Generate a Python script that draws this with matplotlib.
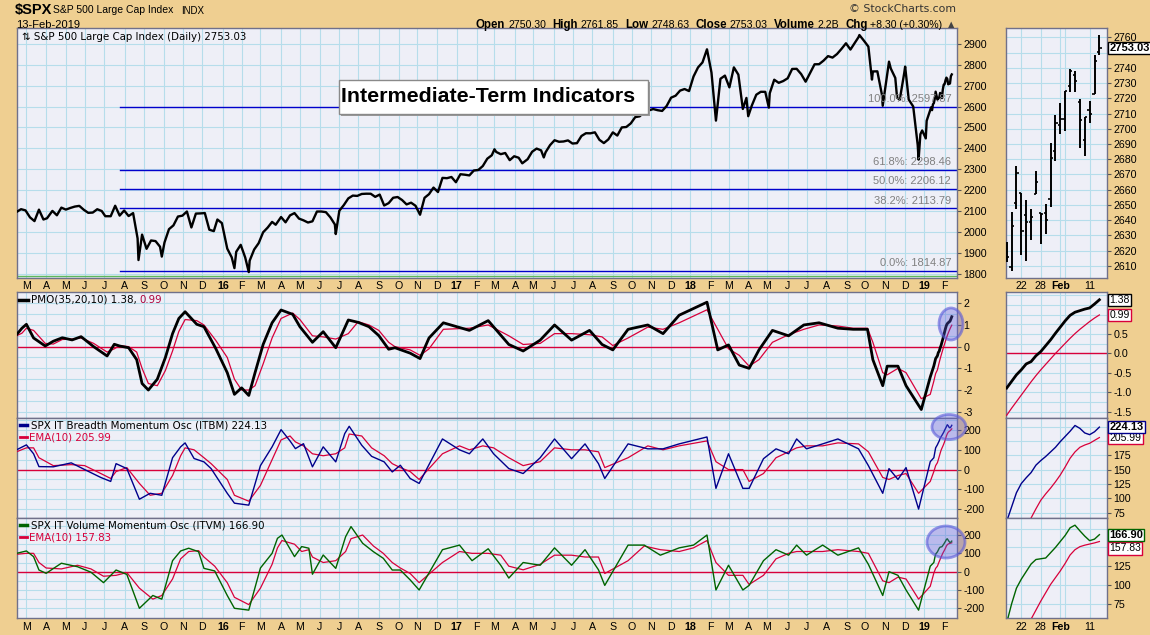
import numpy as np
import pandas as pd
import matplotlib
matplotlib.use('Agg')
import matplotlib.pyplot as plt
from matplotlib.patches import Ellipse, Rectangle
from matplotlib.transforms import blended_transform_factory

plt.rcParams['axes.unicode_minus'] = False

W, H = 1150, 635
BG = '#EFCF91'
PANEL = '#EEEFF7'
GRID = '#B6DDEB'
RED = '#D8003A'

# ---------------- data ----------------
# S&P 500 daily line (closes, with the visible intraday spikes)
spx_dates = ['2015-02-13', '2015-02-20', '2015-02-27', '2015-03-06', '2015-03-13', '2015-03-20', '2015-03-27',
             '2015-04-02', '2015-04-10', '2015-04-17', '2015-04-24', '2015-05-01', '2015-05-08', '2015-05-15',
             '2015-05-22', '2015-05-29', '2015-06-05', '2015-06-12', '2015-06-19', '2015-06-26', '2015-07-02',
             '2015-07-10', '2015-07-17', '2015-07-24', '2015-07-31', '2015-08-07', '2015-08-14', '2015-08-21',
             '2015-08-24', '2015-08-28', '2015-09-04', '2015-09-11', '2015-09-18', '2015-09-25', '2015-09-29',
             '2015-10-02', '2015-10-09', '2015-10-16', '2015-10-23', '2015-10-30', '2015-11-06', '2015-11-13',
             '2015-11-20', '2015-11-27', '2015-12-04', '2015-12-11', '2015-12-18', '2015-12-24', '2015-12-31',
             '2016-01-08', '2016-01-15', '2016-01-20', '2016-01-22', '2016-01-29', '2016-02-05', '2016-02-11',
             '2016-02-12', '2016-02-19', '2016-02-26', '2016-03-04', '2016-03-11', '2016-03-18', '2016-03-24',
             '2016-04-01', '2016-04-08', '2016-04-15', '2016-04-22', '2016-04-29', '2016-05-06', '2016-05-13',
             '2016-05-20', '2016-05-27', '2016-06-03', '2016-06-10', '2016-06-17', '2016-06-24', '2016-06-27',
             '2016-07-01', '2016-07-08', '2016-07-15', '2016-07-22', '2016-07-29', '2016-08-05', '2016-08-12',
             '2016-08-19', '2016-08-26', '2016-09-02', '2016-09-09', '2016-09-16', '2016-09-23', '2016-09-30',
             '2016-10-07', '2016-10-14', '2016-10-21', '2016-10-28', '2016-11-04', '2016-11-11', '2016-11-18',
             '2016-11-25', '2016-12-02', '2016-12-09', '2016-12-16', '2016-12-23', '2016-12-30', '2017-01-06',
             '2017-01-13', '2017-01-20', '2017-01-27', '2017-02-03', '2017-02-10', '2017-02-17', '2017-02-24',
             '2017-03-01', '2017-03-03', '2017-03-10', '2017-03-17', '2017-03-24', '2017-03-31', '2017-04-07',
             '2017-04-13', '2017-04-21', '2017-04-28', '2017-05-05', '2017-05-12', '2017-05-17', '2017-05-19',
             '2017-05-26', '2017-06-02', '2017-06-09', '2017-06-16', '2017-06-23', '2017-06-30', '2017-07-07',
             '2017-07-14', '2017-07-21', '2017-07-28', '2017-08-04', '2017-08-11', '2017-08-18', '2017-08-25',
             '2017-09-01', '2017-09-08', '2017-09-15', '2017-09-22', '2017-09-29', '2017-10-06', '2017-10-13',
             '2017-10-20', '2017-10-27', '2017-11-03', '2017-11-10', '2017-11-17', '2017-11-24', '2017-12-01',
             '2017-12-08', '2017-12-15', '2017-12-22', '2017-12-29', '2018-01-05', '2018-01-12', '2018-01-19',
             '2018-01-26', '2018-02-02', '2018-02-08', '2018-02-09', '2018-02-16', '2018-02-23', '2018-03-02',
             '2018-03-09', '2018-03-16', '2018-03-23', '2018-03-29', '2018-04-02', '2018-04-06', '2018-04-13',
             '2018-04-20', '2018-04-27', '2018-05-03', '2018-05-04', '2018-05-11', '2018-05-18', '2018-05-25',
             '2018-06-01', '2018-06-08', '2018-06-15', '2018-06-22', '2018-06-29', '2018-07-06', '2018-07-13',
             '2018-07-20', '2018-07-27', '2018-08-03', '2018-08-10', '2018-08-17', '2018-08-24', '2018-08-31',
             '2018-09-07', '2018-09-14', '2018-09-20', '2018-09-21', '2018-09-28', '2018-10-05', '2018-10-11',
             '2018-10-12', '2018-10-19', '2018-10-26', '2018-10-29', '2018-11-02', '2018-11-07', '2018-11-09',
             '2018-11-16', '2018-11-20', '2018-11-23', '2018-11-30', '2018-12-03', '2018-12-07', '2018-12-14',
             '2018-12-21', '2018-12-24', '2018-12-26', '2018-12-28', '2019-01-03', '2019-01-04', '2019-01-11',
             '2019-01-14', '2019-01-15']
spx_close = [2096.99, 2110.30, 2104.50, 2071.26, 2053.40, 2108.10, 2061.02,
             2066.96, 2102.06, 2081.18, 2117.69, 2108.29, 2116.10, 2122.73,
             2126.06, 2107.39, 2092.83, 2094.11, 2109.99, 2101.49, 2076.78,
             2076.62, 2126.64, 2079.65, 2103.84, 2077.57, 2091.54, 1970.89,
             1867.61, 1988.87, 1921.22, 1961.05, 1958.03, 1931.34, 1884.09,
             1951.36, 2014.89, 2033.11, 2075.15, 2079.36, 2099.20, 2023.04,
             2089.17, 2090.11, 2091.69, 2012.37, 2005.55, 2060.99, 2043.94,
             1922.03, 1880.33, 1829.08, 1906.90, 1940.24, 1880.05, 1810.10,
             1864.78, 1917.78, 1948.05, 1999.99, 2022.19, 2049.58, 2035.94,
             2072.78, 2047.60, 2080.73, 2091.58, 2065.30, 2057.14, 2046.61,
             2052.32, 2099.06, 2099.13, 2096.07, 2071.22, 2037.41, 1991.68,
             2102.95, 2129.90, 2161.74, 2175.03, 2173.60, 2182.87, 2184.05,
             2183.87, 2169.04, 2179.98, 2127.81, 2139.16, 2164.69, 2168.27,
             2153.74, 2132.98, 2141.16, 2126.41, 2083.79, 2164.45, 2181.90,
             2213.35, 2191.95, 2259.53, 2258.07, 2263.79, 2238.83, 2276.98,
             2274.64, 2271.31, 2294.69, 2297.42, 2316.10, 2351.16, 2367.34,
             2395.96, 2383.12, 2372.60, 2378.25, 2343.98, 2362.72, 2355.54,
             2328.95, 2348.69, 2384.20, 2399.29, 2390.90, 2357.03, 2381.73,
             2415.82, 2439.07, 2431.77, 2433.15, 2438.30, 2423.41, 2425.18,
             2459.27, 2472.54, 2472.10, 2476.83, 2441.32, 2425.55, 2443.05,
             2476.55, 2461.43, 2500.23, 2502.22, 2519.36, 2549.33, 2553.17,
             2575.21, 2581.07, 2587.84, 2582.30, 2578.85, 2602.42, 2642.22,
             2651.50, 2675.81, 2683.34, 2673.61, 2743.15, 2786.24, 2810.30,
             2872.87, 2762.13, 2581.00, 2532.69, 2732.22, 2747.30, 2691.25,
             2786.57, 2752.01, 2588.26, 2640.87, 2553.80, 2604.47, 2656.30,
             2670.14, 2669.91, 2594.62, 2663.42, 2727.72, 2712.97, 2721.33,
             2734.62, 2779.03, 2779.66, 2754.88, 2718.37, 2759.82, 2801.31,
             2801.83, 2818.82, 2840.35, 2833.28, 2850.13, 2874.69, 2901.52,
             2871.68, 2904.98, 2930.75, 2940.91, 2913.98, 2885.57, 2728.37,
             2767.13, 2767.78, 2658.69, 2603.54, 2723.06, 2813.89, 2781.01,
             2736.27, 2641.89, 2632.56, 2760.17, 2790.37, 2633.08, 2599.95,
             2416.62, 2346.58, 2467.70, 2485.74, 2447.89, 2531.94, 2596.26,
             2582.61, 2610.30]

# last weeks, daily OHLC (right-hand zoom panel)
bar_dates = ['2019-01-16', '2019-01-17', '2019-01-18', '2019-01-22', '2019-01-23', '2019-01-24', '2019-01-25',
             '2019-01-28', '2019-01-29', '2019-01-30', '2019-01-31', '2019-02-01', '2019-02-04', '2019-02-05',
             '2019-02-06', '2019-02-07', '2019-02-08', '2019-02-11', '2019-02-12', '2019-02-13']
bar_open = [2614.75, 2609.28, 2651.27, 2657.88, 2643.48, 2638.84, 2657.44, 2644.97, 2644.89, 2653.62,
            2685.49, 2702.32, 2706.49, 2728.34, 2735.05, 2717.53, 2692.36, 2712.40, 2722.61, 2750.30]
bar_high = [2625.76, 2645.06, 2675.47, 2657.88, 2653.19, 2647.20, 2672.38, 2644.97, 2650.93, 2690.44,
            2708.95, 2716.66, 2724.99, 2738.98, 2738.08, 2719.32, 2708.07, 2718.05, 2748.19, 2761.85]
bar_low = [2612.68, 2606.36, 2647.58, 2617.27, 2612.86, 2627.01, 2657.33, 2624.06, 2631.05, 2648.34,
           2678.65, 2696.88, 2698.75, 2724.03, 2724.15, 2687.26, 2681.83, 2703.79, 2722.61, 2748.63]
bar_close = [2616.10, 2635.96, 2670.71, 2632.90, 2638.70, 2642.33, 2664.76, 2643.85, 2640.00, 2681.05,
             2704.10, 2706.53, 2724.87, 2737.70, 2731.61, 2706.05, 2707.88, 2709.80, 2744.73, 2753.03]

fib_pct = ['100.0%', '61.8%', '50.0%', '38.2%', '0.0%']
fib_level = [2597.87, 2298.46, 2206.12, 2113.79, 1814.87]
fib_start = '2015-07-24'

# PMO(35,20,10) history and its signal line
pmo_dates = ['2015-02-13', '2015-02-23', '2015-03-02', '2015-03-12', '2015-03-31', '2015-04-13', '2015-04-27',
             '2015-05-12', '2015-05-26', '2015-06-15', '2015-07-06', '2015-07-16', '2015-07-24', '2015-08-07',
             '2015-08-20', '2015-08-28', '2015-09-08', '2015-09-22', '2015-10-05', '2015-10-15', '2015-10-26',
             '2015-11-04', '2015-11-23', '2015-12-03', '2015-12-22', '2016-01-08', '2016-01-20', '2016-02-01',
             '2016-02-11', '2016-02-22', '2016-03-04', '2016-03-18', '2016-04-01', '2016-04-20', '2016-05-02',
             '2016-05-20', '2016-06-07', '2016-06-27', '2016-07-15', '2016-08-01', '2016-08-17', '2016-09-01',
             '2016-09-16', '2016-09-27', '2016-10-20', '2016-11-04', '2016-11-18', '2016-12-12', '2017-01-20',
             '2017-02-20', '2017-03-23', '2017-04-14', '2017-05-11', '2017-06-02', '2017-06-29', '2017-07-27',
             '2017-08-16', '2017-09-01', '2017-09-26', '2017-10-26', '2017-11-20', '2017-12-14', '2018-01-26',
             '2018-02-13', '2018-03-01', '2018-03-19', '2018-04-03', '2018-04-18', '2018-05-09', '2018-06-04',
             '2018-06-27', '2018-07-20', '2018-08-20', '2018-09-12', '2018-10-04', '2018-10-12', '2018-10-29',
             '2018-11-05', '2018-11-21', '2018-12-04', '2018-12-27', '2019-01-10']
pmo_line = [0.55, 0.85, 1.03, 0.40, 0.03, 0.25, 0.41, 0.31, 0.46, 0.00, -0.43, 0.11, 0.03, -0.05,
            -0.60, -1.70, -2.00, -1.50, -0.50, 0.60, 1.30, 1.61, 1.03, 0.92, -0.07, -1.20, -2.20, -1.90,
            -2.25, -1.20, 0.10, 1.10, 1.69, 1.49, 0.92, 0.20, 0.69, -0.05, 1.23, 1.12, 0.92, 0.51,
            -0.12, -0.05, -0.30, -0.55, 0.40, 1.10, 0.75, 1.20, 0.10, -0.20, 0.30, 1.00, 0.30, 0.75,
            0.10, -0.15, 0.80, 1.00, 0.60, 1.45, 2.05, -0.15, 0.08, -0.85, -1.00, -0.15, 0.75, 0.50,
            1.00, 1.10, 0.85, 0.80, 0.80, -0.60, -1.80, -0.90, -0.90, -1.80, -2.90, -1.40]
pmo_signal = [0.50, 0.62, 0.85, 0.75, 0.15, 0.12, 0.33, 0.35, 0.40, 0.15, -0.25, -0.10, 0.05, 0.00,
              -0.25, -1.00, -1.70, -1.80, -1.10, -0.20, 0.70, 1.25, 1.20, 1.00, 0.30, -0.50, -1.50, -2.00,
              -2.00, -1.80, -0.80, 0.40, 1.30, 1.55, 1.25, 0.50, 0.45, 0.35, 0.60, 1.15, 1.00, 0.75,
              0.20, 0.00, -0.15, -0.40, -0.10, 0.80, 0.85, 1.00, 0.50, 0.10, 0.15, 0.60, 0.60, 0.55,
              0.45, 0.05, 0.40, 0.90, 0.80, 1.10, 1.70, 0.80, -0.10, -0.40, -0.90, -0.60, 0.20, 0.55,
              0.80, 1.00, 0.95, 0.85, 0.85, 0.20, -1.20, -1.30, -1.00, -1.20, -2.40, -2.20]

itbm_dates = ['2015-02-13', '2015-03-02', '2015-03-12', '2015-03-20', '2015-04-13', '2015-05-11', '2015-06-01',
              '2015-06-25', '2015-07-10', '2015-07-20', '2015-08-05', '2015-08-25', '2015-09-10', '2015-09-29',
              '2015-10-15', '2015-10-28', '2015-11-04', '2015-11-18', '2015-12-03', '2015-12-15', '2016-01-08',
              '2016-01-20', '2016-02-11', '2016-03-01', '2016-03-18', '2016-04-01', '2016-04-15', '2016-04-25',
              '2016-05-06', '2016-05-20', '2016-06-07', '2016-06-27', '2016-07-11', '2016-07-18', '2016-08-05',
              '2016-08-22', '2016-09-09', '2016-09-22', '2016-10-05', '2016-10-20', '2016-11-03', '2016-12-09',
              '2017-01-05', '2017-01-20', '2017-02-10', '2017-02-28', '2017-03-23', '2017-04-14', '2017-05-11',
              '2017-06-02', '2017-06-29', '2017-07-20', '2017-08-10', '2017-08-21', '2017-09-26', '2017-10-26',
              '2017-11-20', '2017-12-14', '2018-01-26', '2018-02-09', '2018-03-01', '2018-03-23', '2018-04-03',
              '2018-04-25', '2018-05-15', '2018-06-04', '2018-06-15', '2018-07-02', '2018-07-26', '2018-08-20',
              '2018-09-20', '2018-10-05', '2018-10-29', '2018-11-07', '2018-11-21', '2018-12-04', '2018-12-24',
              '2019-01-10']
itbm_line = [100, 125, 80, 15, 14, 34, 0, -40, -60, 30, 5, -150, -120, -130, 60, 115, 135, 56, 39, 5,
             -120, -170, -180, 20, 115, 202, 145, 106, 131, 14, 115, 39, 182, 219, 123, 67, 39, -12, 22,
             -45, -70, 155, 100, 80, 155, 80, 5, -20, 60, 155, 55, 130, 30, -45, 130, 105, 105, 130, 165,
             -95, 80, -95, -95, 55, 105, 80, 155, 105, 130, 155, 105, 20, -120, 5, -50, 10, -200, 40]
itbm_ema = [90, 110, 110, 60, 20, 25, 20, -20, -45, -10, 10, -70, -130, -120, -30, 70, 110, 100, 60, 30,
            -50, -130, -160, -80, 50, 150, 170, 140, 120, 80, 70, 80, 110, 180, 170, 110, 70, 30, 10,
            -10, -50, 80, 120, 100, 120, 110, 60, 20, 40, 110, 100, 100, 90, 10, 60, 120, 100, 120, 145,
            40, 0, 0, -60, -20, 60, 90, 110, 120, 120, 135, 130, 90, -40, -50, -30, -20, -120, -60]

itvm_dates = ['2015-02-13', '2015-03-02', '2015-03-12', '2015-03-20', '2015-04-01', '2015-04-24', '2015-05-20',
              '2015-06-10', '2015-06-30', '2015-07-20', '2015-08-05', '2015-08-25', '2015-09-15', '2015-09-29',
              '2015-10-15', '2015-10-28', '2015-11-10', '2015-11-25', '2015-12-03', '2015-12-20', '2016-01-08',
              '2016-01-20', '2016-02-11', '2016-03-01', '2016-03-18', '2016-03-28', '2016-04-04', '2016-04-22',
              '2016-05-04', '2016-05-16', '2016-05-20', '2016-06-07', '2016-06-27', '2016-07-12', '2016-07-20',
              '2016-08-08', '2016-08-24', '2016-09-08', '2016-09-22', '2016-10-05', '2016-10-20', '2016-11-03',
              '2016-12-09', '2017-01-05', '2017-01-25', '2017-02-20', '2017-03-10', '2017-03-23', '2017-04-14',
              '2017-05-11', '2017-06-02', '2017-06-29', '2017-07-20', '2017-08-10', '2017-08-21', '2017-09-26',
              '2017-10-20', '2017-11-15', '2017-12-14', '2018-01-05', '2018-01-26', '2018-02-09', '2018-03-01',
              '2018-03-23', '2018-04-03', '2018-04-25', '2018-05-15', '2018-06-04', '2018-06-15', '2018-07-02',
              '2018-07-26', '2018-08-20', '2018-09-20', '2018-10-05', '2018-10-29', '2018-11-07', '2018-11-21',
              '2018-12-04', '2018-12-24', '2019-01-10']
itvm_line = [100, 113, 82, 9, -9, 46, 27, -3, -60, 9, -15, -200, -130, -150, 60, 113, 128, 109, 18, 4,
             -130, -200, -210, 20, 100, 182, 200, 82, 137, 128, -14, 91, 18, 191, 246, 155, 109, 73, 9,
             9, -45, -100, 120, 145, 60, 125, 35, -35, 50, 35, 130, 35, 120, 10, -75, 145, 145, 90, 130,
             145, 200, -100, 35, -100, -75, 60, 120, 90, 145, 90, 145, 90, 130, 40, -130, 0, -20, -100,
             -210, 30]
itvm_ema = [95, 100, 100, 50, 20, 15, 35, 15, -25, -20, -5, -90, -150, -130, -40, 70, 110, 115, 80, 30,
            -60, -140, -180, -90, 40, 130, 170, 150, 110, 120, 80, 50, 60, 110, 180, 200, 140, 100, 50,
            20, -10, -60, 50, 110, 100, 100, 90, 30, 10, 40, 90, 90, 80, 80, -10, 60, 140, 120, 110,
            130, 170, 50, -20, -20, -70, -20, 70, 100, 110, 110, 110, 120, 110, 100, -50, -60, -30, -40,
            -150, -80]

# last weeks, daily (same dates as bar_dates)
pmo_recent = [-0.89, -0.72, -0.55, -0.42, -0.27, -0.21, -0.06, 0.05, 0.20, 0.35, 0.52, 0.68, 0.84, 0.98,
              1.06, 1.10, 1.14, 1.17, 1.27, 1.38]
pmo_sig_recent = [-1.59, -1.41, -1.24, -1.07, -0.90, -0.73, -0.57, -0.42, -0.28, -0.14, 0.00, 0.13, 0.26,
                  0.39, 0.51, 0.62, 0.72, 0.82, 0.91, 0.99]
itbm_recent = [60, 85, 110, 126, 136, 145, 158, 166, 173, 181, 189, 199, 208, 217, 227, 222, 214, 211, 216, 224.13]
itbm_ema_recent = [-10, 5, 20, 35, 50, 66, 82, 97, 108, 118, 129, 141, 155, 170, 181, 189, 193, 196, 201, 205.99]
itvm_recent = [50, 75, 96, 108, 118, 128, 134, 135, 136, 143, 150, 158, 166, 176, 179.5, 172, 165, 159, 161, 166.90]
itvm_ema_recent = [-8, 5, 18, 30, 43, 55, 67, 79, 90, 101, 110, 119, 129, 140, 147, 151, 153, 154.5, 156, 157.83]

# ---------------- layout helpers ----------------
bdays = pd.bdate_range('2015-02-02', '2019-02-28')


def pos(dates):
    return bdays.searchsorted(pd.to_datetime(dates))


i_mar, i_feb = pos(['2015-03-02', '2019-02-01'])
ppd = (944.6 - 26.4) / (i_feb - i_mar)
main_xlim = (i_mar - (26.4 - 16.7) / ppd, i_feb + (956.7 - 944.6) / ppd)
months = pd.date_range('2015-03-01', '2019-02-01', freq='MS')
month_pos = [bdays.searchsorted(m) for m in months]
month_lbl = [m.strftime('%y') if m.month == 1 else m.strftime('%b')[0] for m in months]

nb = len(bar_dates)
sx = np.arange(nb)
small_xlim = (-0.2, nb - 1 + 1.5)
small_ticks = [bar_dates.index(d) for d in ['2019-01-22', '2019-01-28', '2019-02-01', '2019-02-11']]
small_lbl = ['22', '28', 'Feb', '11']
small_grid = [bar_dates.index(d) for d in ['2019-01-22', '2019-01-28', '2019-02-01', '2019-02-04', '2019-02-11']]

fig = plt.figure(figsize=(W / 100, H / 100), dpi=100)
fig.patch.set_facecolor(BG)
renderer = fig.canvas.get_renderer()


def panel(l, t, r, b):
    ax = fig.add_axes([l / W, 1 - b / H, (r - l) / W, (b - t) / H])
    ax.set_facecolor(PANEL)
    for s in ax.spines.values():
        s.set_color('#70708A')
        s.set_linewidth(1)
    ax.tick_params(left=False, bottom=False, labelbottom=False, labelleft=False,
                   right=True, labelright=True, length=3, width=0.8, color='#555555',
                   labelsize=7.7, pad=2)
    return ax


def set_ticks(ax, vals, labels):
    ax.set_yticks(list(vals))
    ax.set_yticklabels(labels, family='Liberation Sans')


def vgrid(ax, xs):
    for x in xs:
        ax.axvline(x, color=GRID, lw=0.8, zorder=0)


def hgrid(ax, ys):
    for y in ys:
        ax.axhline(y, color=GRID, lw=0.8, zorder=0)


def date_row(ax, xs, labels, dy, bold_fn):
    tr = blended_transform_factory(ax.transData, ax.transAxes)
    ph = ax.get_position().height * H
    for x, lb in zip(xs, labels):
        ax.text(x, -dy / ph, lb, transform=tr, ha='center', va='center', fontsize=7.7,
                family='Liberation Sans', fontweight='bold' if bold_fn(lb) else 'normal', clip_on=False)


def value_box(ax, val, txt, ec, bold=False, z=10, dy=0):
    ax.annotate(txt, xy=(1, val), xycoords=('axes fraction', 'data'), xytext=(2, dy),
                textcoords='offset points', va='center', ha='left', fontsize=8 if bold else 7.5,
                family='Liberation Sans', fontweight='bold' if bold else 'normal', annotation_clip=False,
                bbox=dict(boxstyle='square,pad=0.1', fc='white', ec=ec, lw=1), zorder=z)


def legend_row(ax, x_px, y_px, parts, ph):
    # parts: list of (text, colour); drawn one after the other
    x = x_px
    for txt, colr in parts:
        t = ax.text(x / 940, 1 - y_px / ph, txt, transform=ax.transAxes, fontsize=7.4, va='center',
                    color=colr, zorder=5)
        x += t.get_window_extent(renderer).width


ML, MR, SL, SR = 16.7, 956.7, 1005.7, 1106.7
rows = [(28.3, 278), (292, 418), (418, 518), (518, 618)]

# ---------------- price panel ----------------
ax = panel(ML, rows[0][0], MR, rows[0][1])
ax.set_xlim(*main_xlim)
ax.set_ylim(1782, 2973)
set_ticks(ax, range(1800, 3000, 100), [str(v) for v in range(1800, 3000, 100)])
vgrid(ax, month_pos)
hgrid(ax, range(1800, 3000, 100))
px = np.concatenate([pos(spx_dates), pos(bar_dates)])
py = spx_close + bar_close
ax.plot(px, py, color='black', lw=1.7, zorder=3)
ax.axhline(1791, color='#5CB85C', lw=1, zorder=2)
fx = pos([fib_start])[0]
for lvl, pct in zip(fib_level, fib_pct):
    ax.plot([fx, main_xlim[1]], [lvl, lvl], color='#0000CC', lw=1, zorder=2)
    ax.annotate(f'{pct}: {lvl:.2f}', xy=(1, lvl), xycoords=('axes fraction', 'data'), xytext=(-4, 2),
                textcoords='offset points', ha='right', va='bottom', fontsize=8, color='#808080',
                family='Liberation Sans', zorder=4)
ax.text(5 / 940, 1 - 9 / 249.7, '\u21c5 S&P 500 Large Cap Index (Daily) 2753.03', transform=ax.transAxes,
        fontsize=7.4, va='center', ha='left', zorder=5)
date_row(ax, month_pos, month_lbl, 8, lambda s: s.isdigit())

# text box
fig.add_artist(Rectangle((341 / W, 1 - 115.5 / H), 309 / W, 33 / H, transform=fig.transFigure,
                         fc='#9A9A9A', ec='none', zorder=20))
fig.add_artist(Rectangle((339 / W, 1 - 113.5 / H), 309 / W, 33 / H, transform=fig.transFigure,
                         fc='white', ec='#8A8A8A', lw=1, zorder=21))
fig.text(488 / W, 1 - 97 / H, 'Intermediate-Term Indicators', ha='center', va='center',
         fontsize=15.4, fontweight='bold', family='Liberation Sans', zorder=22)

# ---------------- price zoom panel ----------------
ax = panel(SL, rows[0][0], SR, rows[0][1])
ax.set_xlim(*small_xlim)
ax.set_ylim(2602, 2766)
set_ticks(ax, range(2610, 2770, 10), ['' if v == 2750 else str(v) for v in range(2610, 2770, 10)])
vgrid(ax, small_grid)
hgrid(ax, range(2610, 2770, 10))
ax.vlines(sx, bar_low, bar_high, color='black', lw=1.4, zorder=3)
ax.hlines(bar_open, sx - 0.45, sx, color='black', lw=1.2, zorder=3)
ax.hlines(bar_close, sx, sx + 0.45, color='black', lw=1.2, zorder=3)
value_box(ax, 2753.03, '2753.03', 'black', bold=True)
date_row(ax, small_ticks, small_lbl, 8, lambda s: s == 'Feb')

# ---------------- indicator panels ----------------
ind = [
    (pmo_dates, pmo_line, pmo_signal, pmo_recent, pmo_sig_recent, 'black', 2.0,
     (-3.29, 2.52), [-3, -2, -1, 0, 1, 2], np.arange(-3, 2.6, 0.5),
     (-1.66, 1.58), [-1.5, -1.0, -0.5, 0.0, 0.5, 1.0, 1.5], np.arange(-1.5, 1.6, 0.25), [1.0, 1.5]),
    (itbm_dates, itbm_line, itbm_ema, itbm_recent, itbm_ema_recent, '#00008B', 1.0,
     (-245, 261), [-200, -100, 0, 100, 200], range(-200, 251, 50),
     (66, 240), [75, 100, 125, 150, 175, 200, 225], range(75, 230, 25), [200, 225]),
    (itvm_dates, itvm_line, itvm_ema, itvm_recent, itvm_ema_recent, '#006400', 1.0,
     (-253, 293), [-200, -100, 0, 100, 200], range(-200, 251, 50),
     (56.5, 189), [75, 100, 125, 150, 175], range(75, 180, 25), [150, 175]),
]
for k, (dts, line, sig, rec, rec_sig, col, lw, ylim, yt, yg, sylim, syt, syg, hidden) in enumerate(ind):
    top, bot = rows[k + 1]
    ph = bot - top
    ax = panel(ML, top, MR, bot)
    ax.set_xlim(*main_xlim)
    ax.set_ylim(*ylim)
    set_ticks(ax, yt, [str(v) for v in yt])
    vgrid(ax, month_pos)
    hgrid(ax, yg)
    ax.axhline(0, color=RED, lw=1, zorder=2)
    xx = np.concatenate([pos(dts), pos(bar_dates)])
    ax.plot(xx, list(sig) + rec_sig, color=RED, lw=0.9, zorder=3)
    ax.plot(xx, list(line) + rec, color=col, lw=lw, zorder=4)

    sa = panel(SL, top, SR, bot)
    sa.set_xlim(*small_xlim)
    sa.set_ylim(*sylim)
    fmt = (lambda v: f'{v:.1f}') if k == 0 else (lambda v: str(v))
    set_ticks(sa, syt, ['' if v in hidden else fmt(v) for v in syt])
    vgrid(sa, small_grid)
    hgrid(sa, syg)
    sa.axhline(0, color=RED, lw=1, zorder=2)
    sa.plot(sx, rec_sig, color=RED, lw=0.9, zorder=3)
    sa.plot(sx, rec, color=col, lw=lw, zorder=4)
    if k == 0:
        value_box(sa, 1.38, '1.38', 'black')
        value_box(sa, 0.99, '0.99', RED)
        ax.plot([2 / 940, 11 / 940], [1 - 8 / ph] * 2, transform=ax.transAxes, color='black', lw=2.5, zorder=5)
        legend_row(ax, 14, 8, [('PMO(35,20,10) 1.38, ', 'black'), ('0.99', '#B0003A')], ph)
    else:
        name = ['SPX IT Breadth Momentum Osc (ITBM) 224.13', 'SPX IT Volume Momentum Osc (ITVM) 166.90'][k - 1]
        ema_txt = ['EMA(10) 205.99', 'EMA(10) 157.83'][k - 1]
        value_box(sa, rec_sig[-1], f'{rec_sig[-1]:.2f}', RED, z=9, dy=-5 if k == 2 else 0)
        value_box(sa, rec[-1], f'{rec[-1]:.2f}', col, bold=True, z=11)
        ax.plot([3 / 940, 10 / 940], [1 - 7 / ph] * 2, transform=ax.transAxes, color=col, lw=2.5, zorder=5)
        legend_row(ax, 14, 7, [(name, 'black')], ph)
        ax.plot([3 / 940, 10 / 940], [1 - 19 / ph] * 2, transform=ax.transAxes, color=RED, lw=2, zorder=5)
        legend_row(ax, 12, 19, [(ema_txt, RED)], ph)
    if k == 2:
        date_row(ax, month_pos, month_lbl, 9, lambda s: s.isdigit())
        date_row(sa, small_ticks, small_lbl, 9, lambda s: s == 'Feb')

# highlight ellipses
for cx, cy, ew, eh in [(951, 324, 24, 32), (949, 427, 34, 25), (946, 542, 38, 32)]:
    fig.add_artist(Ellipse((cx / W, 1 - cy / H), ew / W, eh / H, transform=fig.transFigure,
                           fc=(0.35, 0.35, 0.85, 0.35), ec=(0.35, 0.35, 0.85, 0.6), lw=2, zorder=30))

# ---------------- header ----------------
fig.text(15 / W, 1 - 10 / H, '$SPX', fontsize=10.5, fontweight='bold', family='Liberation Sans', va='center')
fig.text(53 / W, 1 - 10 / H, 'S&P 500 Large Cap Index', fontsize=7.5, family='Liberation Sans', va='center')
fig.text(181 / W, 1 - 10.5 / H, 'INDX', fontsize=7, family='Liberation Sans', va='center')
fig.text(16 / W, 1 - 25 / H, '13-Feb-2019', fontsize=8, family='Liberation Sans', va='center')
fig.text(956 / W, 1 - 9.5 / H, '\u00a9 StockCharts.com', fontsize=7.8, family='DejaVu Sans', va='center',
         ha='right', color='#333333')

quote = [('Open', True), ('2750.30', False), ('High', True), ('2761.85', False), ('Low', True),
         ('2748.63', False), ('Close', True), ('2753.03', False), ('Volume', True), ('2.2B', False),
         ('Chg', True), ('+8.30 (+0.30%)', False), ('\u25b2', False)]
x = 956
for txt, bold in reversed(quote):
    t = fig.text(x / W, 1 - 25 / H, txt, fontsize=8.3 if bold else 7.6, family='Liberation Sans',
                 fontweight='bold' if bold else 'normal', va='center', ha='right',
                 color='#444444' if txt == '\u25b2' else 'black')
    w = t.get_window_extent(renderer).width
    x -= w + (3 if not bold else 6)

fig.savefig('out.png', dpi=100, facecolor=BG)
